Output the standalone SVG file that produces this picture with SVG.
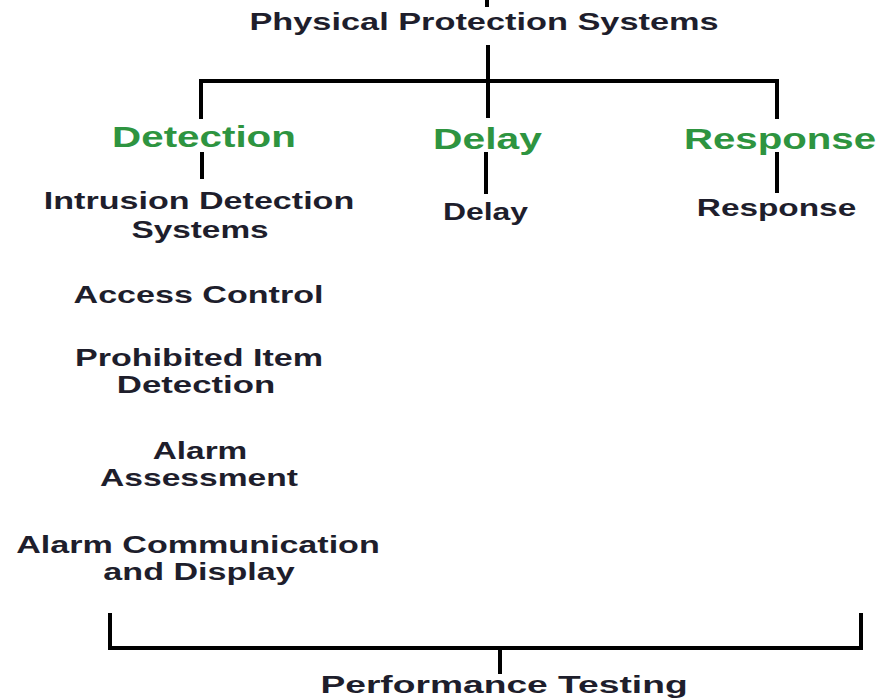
<svg xmlns="http://www.w3.org/2000/svg" width="884" height="699" viewBox="0 0 884 699">
  <style>
    text { font-family: "Liberation Sans", Arial, sans-serif; font-weight: bold; text-anchor: middle; }
    .t { fill: #1e1e2c; font-size: 24px; }
    .h { fill: #2e9440; font-size: 30px; }
    .ln { stroke: #000; stroke-width: 4; fill: none; }
  </style>
  <rect width="884" height="699" fill="#fff"/>

  <g id="connectors">
    <line class="ln" x1="487" y1="0" x2="487" y2="7"/>
    <line class="ln" x1="488" y1="45" x2="488" y2="118"/>
    <path class="ln" d="M201 119 V81 H777 V119"/>
    <line class="ln" x1="202" y1="152" x2="202" y2="179"/>
    <line class="ln" x1="486" y1="152" x2="486" y2="194"/>
    <line class="ln" x1="777" y1="152" x2="777" y2="193"/>
    <path class="ln" d="M110 613 V648 H861 V613"/>
    <line class="ln" x1="500" y1="648" x2="500" y2="674"/>
  </g>

  <!-- labels are drawn in a wide face: horizontal scale on each line -->
  <g id="pps">
    <text class="t" transform="translate(484 30) scale(1.43 1)">Physical Protection Systems</text>
  </g>

  <g id="detection">
    <text class="h" transform="translate(204 147) scale(1.345 1)">Detection</text>
  </g>
  <g id="delay">
    <text class="h" transform="translate(487.5 149) scale(1.36 1)">Delay</text>
  </g>
  <g id="response">
    <text class="h" transform="translate(780 149) scale(1.34 1)">Response</text>
  </g>

  <g id="ids">
    <text class="t" transform="translate(199 209) scale(1.42 1)">Intrusion Detection</text>
    <text class="t" transform="translate(200 238) scale(1.39 1)">Systems</text>
  </g>
  <g id="access-control">
    <text class="t" transform="translate(198.5 303) scale(1.42 1)">Access Control</text>
  </g>
  <g id="prohibited-item">
    <text class="t" transform="translate(199 366) scale(1.42 1)">Prohibited Item</text>
    <text class="t" transform="translate(196 393) scale(1.45 1)">Detection</text>
  </g>
  <g id="alarm-assessment">
    <text class="t" transform="translate(200 459) scale(1.39 1)">Alarm</text>
    <text class="t" transform="translate(199 486) scale(1.4 1)">Assessment</text>
  </g>
  <g id="alarm-comm">
    <text class="t" transform="translate(198 553) scale(1.42 1)">Alarm Communication</text>
    <text class="t" transform="translate(199 580) scale(1.42 1)">and Display</text>
  </g>

  <g id="delay-item">
    <text class="t" transform="translate(485.5 220) scale(1.33 1)">Delay</text>
  </g>
  <g id="response-item">
    <text class="t" transform="translate(776.5 216) scale(1.39 1)">Response</text>
  </g>

  <g id="performance-testing">
    <text class="t" transform="translate(504 693) scale(1.55 1)">Performance Testing</text>
  </g>
</svg>
